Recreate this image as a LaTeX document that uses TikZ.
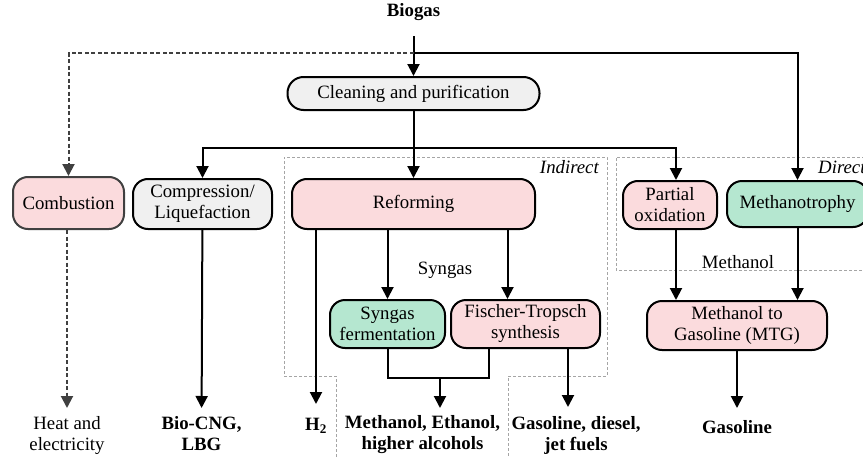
\documentclass[tikz,border=0pt]{standalone}
\usepackage{fontspec}
\setmainfont{Liberation Serif}
\usetikzlibrary{arrows.meta}
\definecolor{pinkf}{RGB}{251,219,221}
\definecolor{greenf}{RGB}{181,231,208}
\definecolor{grayf}{RGB}{240,240,240}
\definecolor{boxg}{RGB}{165,165,165}
\definecolor{darkg}{RGB}{64,64,64}
\begin{document}
\begin{tikzpicture}[x=1pt,y=-1pt,
  every node/.style={font=\fontsize{18.8}{21}\selectfont},
  proc/.style={draw=black, line width=2pt, rounded corners=15pt, align=center, inner sep=0pt},
  outp/.style={anchor=north, inner sep=0pt, align=center},
  outb/.style={outp, font=\fontsize{18.8}{21}\selectfont\bfseries},
  conn/.style={line width=2pt},
  arr/.style={conn, -{Triangle[width=12pt,length=12pt]}},
  darr/.style={arr, draw=darkg, dash pattern=on 4pt off 2.5pt},
  dbox/.style={draw=boxg, line width=0.9pt, dash pattern=on 3pt off 2pt}
]
\useasboundingbox (0,0) rectangle (863,458);
\clip (0,0) rectangle (863,458);

% dashed group frames
\draw[dbox] (336,462) -- (336,376) -- (284,376) -- (284,157) -- (607,157) -- (607,376) -- (508,376) -- (508,462);
\draw[dbox] (875,157) -- (616,157) -- (616,270) -- (875,270);
\node[anchor=east, inner sep=0pt, font=\fontsize{18.8}{21}\selectfont\itshape] (ind) at (599,167) {Indirect};
\node[anchor=west, inner sep=0pt, font=\fontsize{18.8}{21}\selectfont\itshape] (dir) at (818,167) {Direct};

% nodes
\node (bio) at (413.5,12) {\textbf{Biogas}};
\node[proc, fill=grayf, minimum width=252pt, minimum height=33pt, rounded corners=16pt] (clean) at (413.5,93.5) {Cleaning and purification};
\node[proc, fill=pinkf, draw=darkg, minimum width=111pt, minimum height=52pt] (comb) at (68.5,203) {Combustion};
\node[proc, fill=grayf, minimum width=139pt, minimum height=50pt] (comp) at (202.5,204) {Compression/\\Liquefaction};
\node[proc, fill=pinkf, minimum width=243pt, minimum height=50pt] (ref) at (413.5,204) {Reforming};
\node[proc, fill=pinkf, minimum width=94pt, minimum height=48pt] (pox) at (670,205) {Partial\\oxidation};
\node[proc, fill=greenf, minimum width=141pt, minimum height=46pt] (meth) at (797.5,204) {Methanotrophy};
\node[proc, fill=greenf, minimum width=115pt, minimum height=48pt] (sf) at (387.5,324) {Syngas\\fermentation};
\node[proc, fill=pinkf, minimum width=149pt, minimum height=48pt] (ft) at (525.5,324) {Fischer-Tropsch\\synthesis};
\node[proc, fill=pinkf, minimum width=180pt, minimum height=49pt] (mtg) at (737,325.5) {Methanol to\\Gasoline (MTG)};

\node (syn) at (445,270) {Syngas};
\node (mlab) at (738,262) {Methanol};

% outputs
\node[outp] (heat) at (67,416) {Heat and\\electricity};
\node[outb] (cng) at (201.5,416) {Bio-CNG,\\LBG};
\node[outb] (h2) at (316,418) {H\textsubscript{2}};
\node[outb] (alc) at (422.5,415) {Methanol, Ethanol,\\higher alcohols};
\node[outb] (gas) at (576,416) {Gasoline, diesel,\\jet fuels};
\node[outb] (gasol) at (737,420) {Gasoline};

% junctions
\coordinate (j1) at (413.5,53);
\coordinate (j2) at (413.5,148);
\coordinate (j3) at (440,378);

% connectors
\draw[arr, shorten <=12pt] (bio) -- (clean);
\draw[darr] (j1) -| (comb);
\draw[arr] (j1) -| (meth);
\draw[arr] (clean) -- (ref);
\draw[arr] (j2) -| (comp);
\draw[arr] (j2) -| ([xshift=6pt]pox.north);
\draw[darr, shorten >=8pt] (comb.south -| heat) -- (heat);
\draw[arr, shorten >=8pt] (comp) -- (cng);
\draw[arr, shorten >=14pt] (ref.south -| h2) -- (h2);
\draw[arr] (ref.south -| sf) -- (sf);
\draw[arr] ([xshift=-18pt]ft.north |- ref.south) -- ([xshift=-18pt]ft.north);
\draw[conn] (sf.south) |- ([xshift=-37pt]ft.south |- j3) -- ([xshift=-37pt]ft.south);
\draw[arr, shorten >=7pt] (j3) -- (j3 |- alc.north);
\draw[arr, shorten >=9pt] ([xshift=42.5pt]ft.south) -- ([xshift=42.5pt]ft.south |- gas.north);
\draw[arr] ([xshift=6pt]pox.south) -- ([xshift=6pt]pox.south |- mtg.north);
\draw[arr] (meth.south) -- (meth.south |- mtg.north);
\draw[arr, shorten >=12pt] (mtg) -- (gasol);
\end{tikzpicture}
\end{document}
